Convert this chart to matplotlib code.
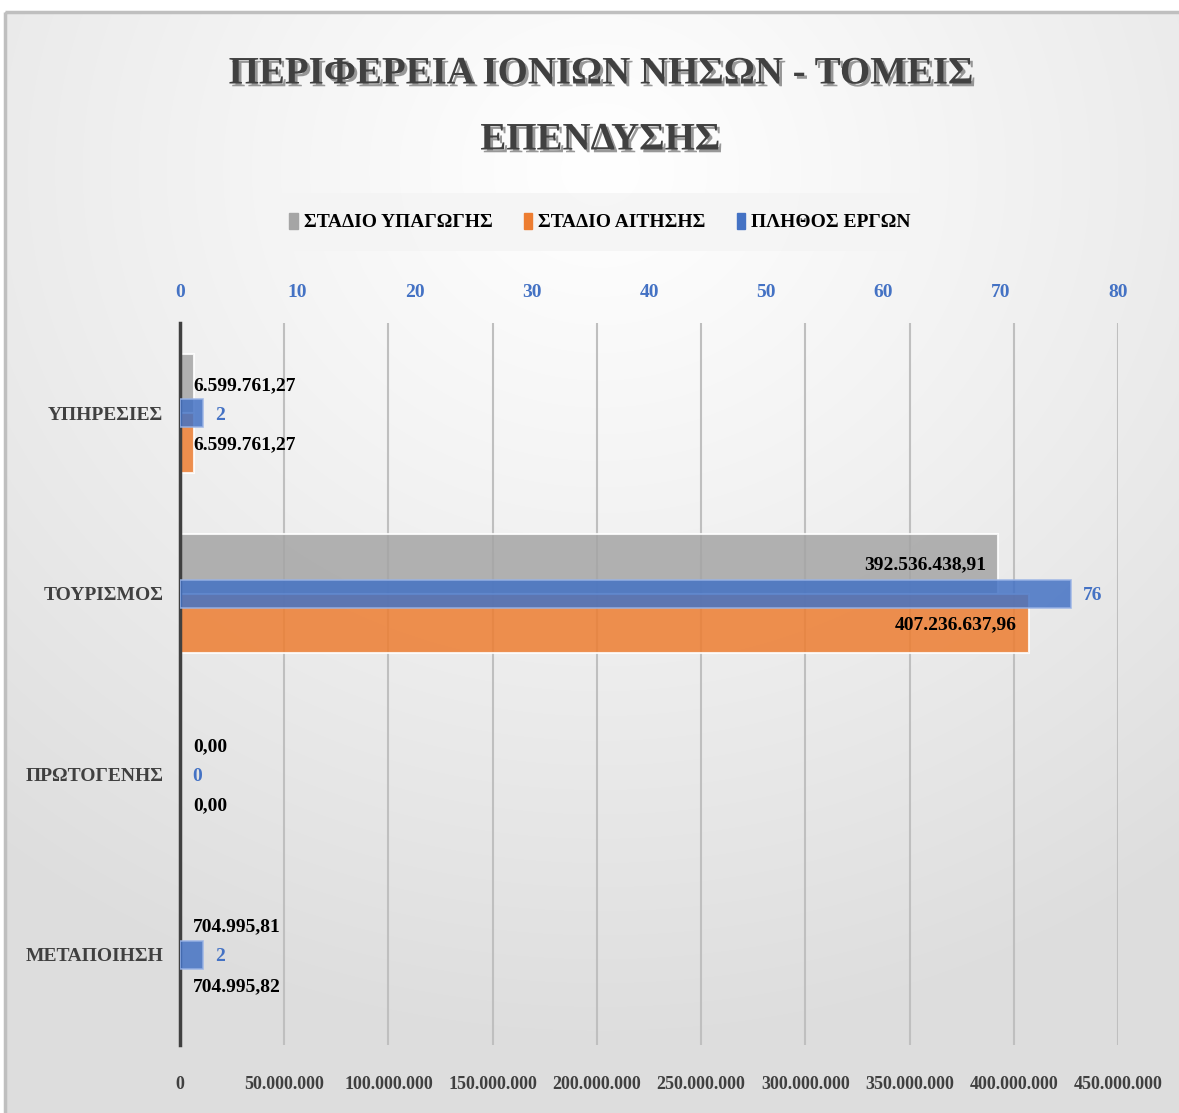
import numpy as np
import matplotlib
matplotlib.use("Agg")
import matplotlib.pyplot as plt
import matplotlib.patheffects as pe
from matplotlib.patches import Rectangle

plt.rcParams["font.family"] = ["Liberation Serif", "DejaVu Serif"]
plt.rcParams["font.weight"] = "bold"

# data
sectors = ["ΥΠΗΡΕΣΙΕΣ", "ΤΟΥΡΙΣΜΟΣ", "ΠΡΩΤΟΓΕΝΗΣ", "ΜΕΤΑΠΟΙΗΣΗ"]
stage_inclusion = [6599761.27, 392536438.91, 0.00, 704995.81]   # ΣΤΑΔΙΟ ΥΠΑΓΩΓΗΣ
stage_application = [6599761.27, 407236637.96, 0.00, 704995.82]  # ΣΤΑΔΙΟ ΑΙΤΗΣΗΣ
n_projects = [2, 76, 0, 2]                                       # ΠΛΗΘΟΣ ΕΡΓΩΝ
amount_ticks = [0, 50e6, 100e6, 150e6, 200e6, 250e6, 300e6, 350e6, 400e6, 450e6]
count_ticks = [0, 10, 20, 30, 40, 50, 60, 70, 80]

GRAY = "#A5A5A5"
ORANGE = "#ED7D31"
BLUE = "#4472C4"
DARK = "#404040"


def gr_num(v, dec=2):
    s = f"{v:,.{dec}f}"
    return s.replace(",", "X").replace(".", ",").replace("X", ".")


W, H = 1179, 1113
fig = plt.figure(figsize=(W / 100, H / 100), dpi=100)

# background gradient
bg = fig.add_axes([0, 0, 1, 1], zorder=-10)
yy, xx = np.mgrid[0:H, 0:W]
d = np.hypot(xx - 600, (yy - 170) * 1.1) / 950
shade = 1.0 - 0.13 * np.clip(d, 0, 1) ** 1.1
img = np.dstack([shade] * 3)
img[:12, :] = 1.0
img[:, :5] = 1.0
bg.imshow(img, extent=(0, W, H, 0), aspect="auto", interpolation="bilinear")
bg.add_patch(Rectangle((5, 12), W, H, fill=False, edgecolor="#BFBFBF", lw=2.5))
bg.set_xlim(0, W)
bg.set_ylim(H, 0)
bg.axis("off")

left, right = 180 / W, 1118 / W
top, bottom = 1 - 323 / H, 1 - 1045 / H
ax = fig.add_axes([left, bottom, right - left, top - bottom])
ax.patch.set_visible(False)

y = np.arange(len(sectors))
h = 0.33
edge = (1, 1, 1, 0.6)
ax.barh(y - h / 2, stage_inclusion, height=h, color=GRAY, alpha=0.85, edgecolor=edge,
        lw=[1.5 if v else 0 for v in stage_inclusion], zorder=2)
ax.barh(y + h / 2, stage_application, height=h, color=ORANGE, alpha=0.85, edgecolor=edge,
        lw=[1.5 if v else 0 for v in stage_application], zorder=2)
ax.set_xlim(0, 450e6)
ax.set_ylim(len(sectors) - 0.5, -0.5)
ax.set_xticks(amount_ticks)
ax.set_xticklabels(["0" if t == 0 else gr_num(t, 0) for t in amount_ticks],
                   fontsize=13, color=DARK, fontweight="bold")
ax.set_yticks(y)
ax.set_yticklabels(sectors, fontsize=14, color=DARK, fontweight="bold")
ax.tick_params(axis="x", length=0, pad=22)
ax.tick_params(axis="y", length=0, pad=12)
ax.grid(axis="x", color="#BFBFBF", lw=1.5, zorder=0)
ax.set_axisbelow(True)
for s in ["top", "right", "bottom"]:
    ax.spines[s].set_visible(False)
ax.spines["left"].set_color(DARK)
ax.spines["left"].set_linewidth(2.5)
ax.spines["left"].set_zorder(5)

for vals, off in [(stage_inclusion, -h / 2), (stage_application, h / 2)]:
    for i, v in enumerate(vals):
        if v > 100e6:
            ax.annotate(gr_num(v), (v, i + off), xytext=(-12, -1), textcoords="offset pixels",
                        ha="right", va="center", fontsize=14, color="black", fontweight="bold")
        else:
            # small values: label sits just right of the axis line
            ax.annotate(gr_num(v), (0, i + off), xytext=(13, -2), textcoords="offset pixels",
                        ha="left", va="center", fontsize=14, color="black", fontweight="bold")

ax2 = ax.twiny()
ax2.patch.set_visible(False)
ax2.barh(y, n_projects, height=0.155, color=BLUE, edgecolor=(0.6, 0.7, 0.9, 0.8),
         lw=[1.2 if v else 0 for v in n_projects], alpha=0.85, zorder=3)
ax2.set_xlim(0, 80)
ax2.set_xticks(count_ticks)
ax2.set_xticklabels([str(t) for t in count_ticks], fontsize=14, color=BLUE, fontweight="bold")
ax2.tick_params(axis="x", length=0, pad=16)
for s in ax2.spines.values():
    s.set_visible(False)
for i, v in enumerate(n_projects):
    ax2.annotate(str(v), (v, i), xytext=(12, -2), textcoords="offset pixels",
                 ha="left", va="center", fontsize=14, color=BLUE, fontweight="bold")

# title
title_fx = [pe.SimplePatchShadow(offset=(2, -2), shadow_rgbFace="#7F7F7F", alpha=0.8), pe.Normal()]
fig.text(600 / W, 1 - 74 / H, "ΠΕΡΙΦΕΡΕΙΑ ΙΟΝΙΩΝ ΝΗΣΩΝ - ΤΟΜΕΙΣ", ha="center", va="center",
         fontsize=28, color=DARK, fontweight="bold", path_effects=title_fx)
fig.text(600 / W, 1 - 140 / H, "ΕΠΕΝΔΥΣΗΣ", ha="center", va="center",
         fontsize=28, color=DARK, fontweight="bold", path_effects=title_fx)

# legend
handles = [Rectangle((0, 0), 1, 1, color=c) for c in (GRAY, ORANGE, BLUE)]
leg = fig.legend(handles, ["ΣΤΑΔΙΟ ΥΠΑΓΩΓΗΣ", "ΣΤΑΔΙΟ ΑΙΤΗΣΗΣ", "ΠΛΗΘΟΣ ΕΡΓΩΝ"],
                 loc="center", bbox_to_anchor=(600 / W, 1 - 222 / H), ncol=3,
                 frameon=True, fancybox=False, handlelength=0.45, handleheight=0.9,
                 handletextpad=0.3, columnspacing=1.6, borderpad=1.0,
                 prop={"family": "Liberation Serif", "weight": "bold", "size": 14})
leg.get_frame().set_facecolor("#F4F4F4")
leg.get_frame().set_edgecolor("none")
leg.get_frame().set_alpha(0.8)

fig.savefig("out.png", dpi=100)
